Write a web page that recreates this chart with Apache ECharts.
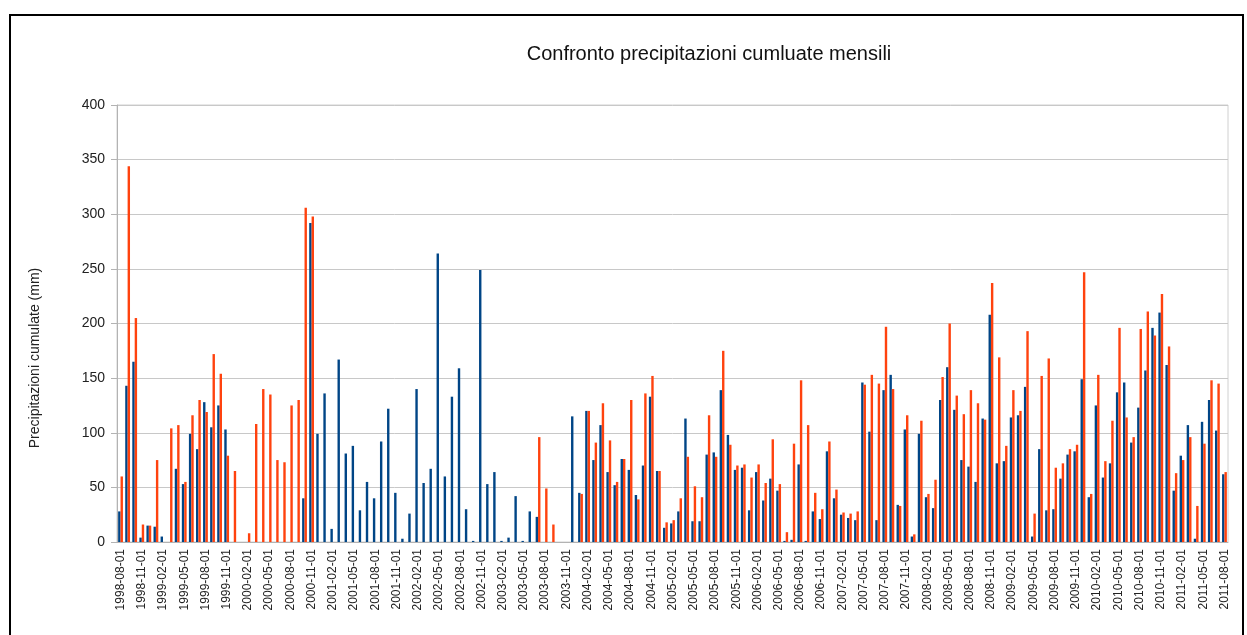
<!DOCTYPE html>
<html>
<head>
<meta charset="utf-8">
<script src="https://cdn.jsdelivr.net/npm/echarts@6/dist/echarts.min.js"></script>
<style>
  html, body { margin: 0; padding: 0; background: #fff; }
  #chart { width: 1247px; height: 635px; }
</style>
</head>
<body>
<div id="chart"></div>
<script>
  // mesi dal 1998-08 al 2011-08
  const startYear = 1998
  const startMonth = 8
  const monthCount = 157

  const blue = [
    28, 143, 165, 4, 15, 14, 5, null, 67, 53, 99, 85, 128, 105, 125, 103,
    null, null, null, null, null, null, null, null, null, null,
    40, 292, 99, 136, 12, 167, 81, 88, 29, 55, 40, 92, 122, 45, 3, 26,
    140, 54, 67, 264, 60, 133, 159, 30, 1, 249, 53, 64, 1, 4, 42, 1,
    28, 23, null, null, null, null, 115, 45, 120, 75, 107, 64, 52, 76,
    66, 43, 70, 133, 65, 13, 17, 28, 113, 19, 19, 80, 82, 139, 98, 66,
    68, 29, 64, 38, 58, 47, 1, 2, 71, 1, 28, 21, 83, 40, 25, 22,
    20, 146, 101, 20, 139, 153, 34, 103, 5, 99, 41, 31, 130, 160, 121, 75,
    69, 55, 113, 208, 72, 74, 114, 116, 142, 5, 85, 29, 30, 58, 80, 83,
    149, 41, 125, 59, 72, 137, 146, 91, 123, 157, 196, 210, 162, 47, 79, 107,
    3, 110, 130, 102, 62
  ]

  const orange = [
    60, 344, 205, 16, 15, 75, null, 104, 107, 55, 116, 130, 119, 172, 154, 79,
    65, null, 8, 108, 140, 135, 75, 73, 125, 130, 306, 298,
    null, null, null, null, null, null, null, null, null, null, null, null,
    null, null, null, null, null, null, null, null, null, null, null, null,
    null, null, null, null, null, null, null,
    96, 49, 16, null, null, null, 44, 120, 91, 127, 93, 55, 76,
    130, 39, 136, 152, 65, 18, 20, 40, 78, 51, 41, 116, 78, 175, 89, 70,
    71, 59, 71, 54, 94, 53, 9, 90, 148, 107, 45, 30, 92, 48, 27, 26,
    28, 144, 153, 145, 197, 140, 33, 116, 7, 111, 44, 57, 151, 200, 134, 117,
    139, 127, 112, 237, 169, 88, 139, 120, 193, 26, 152, 168, 68, 72, 85, 89,
    247, 44, 153, 74, 111, 196, 114, 96, 195, 211, 189, 227, 179, 63, 75, 96,
    33, 90, 148, 145, 64
  ]

  const yTicks = { min: 0, max: 400, interval: 50 }

  const months = []
  for (let i = 0; i < monthCount; i++) {
    const m = startMonth - 1 + i
    const y = startYear + Math.floor(m / 12)
    const mm = (m % 12) + 1
    months.push(y + "-" + (mm < 10 ? "0" + mm : mm) + "-01")
  }

  const font = "Liberation Sans, Arial, sans-serif"
  const grey = "#b3b3b3"

  const myChart = echarts.init(document.getElementById("chart"))
  myChart.setOption({
    animation: false,
    title: {
      text: "Confronto precipitazioni cumluate mensili",
      left: 704,
      top: 39,
      textAlign: "center",
      textStyle: { fontFamily: font, fontSize: 20, fontWeight: "normal", color: "#111" }
    },
    grid: {
      left: 117,
      right: 19,
      top: 105,
      bottom: 93,
      show: true,
      borderColor: "#d0d0d0",
      borderWidth: 1
    },
    xAxis: {
      type: "category",
      data: months,
      axisLine: { lineStyle: { color: grey } },
      axisTick: { interval: 2, length: 5, lineStyle: { color: grey } },
      axisLabel: {
        interval: 2,
        rotate: 90,
        margin: 7,
        fontFamily: font,
        fontSize: 12,
        color: "#222"
      },
      splitLine: { show: false }
    },
    yAxis: {
      type: "value",
      min: yTicks.min,
      max: yTicks.max,
      interval: yTicks.interval,
      axisLine: { show: true, lineStyle: { color: grey } },
      axisTick: { show: true, length: 6, lineStyle: { color: grey } },
      axisLabel: { fontFamily: font, fontSize: 14, color: "#222", margin: 12 },
      splitLine: { lineStyle: { color: "#c8c8c8" } }
    },
    series: [
      {
        name: "Serie 1",
        type: "bar",
        data: blue,
        barWidth: 2.4,
        barGap: "0%",
        itemStyle: { color: "#004586" }
      },
      {
        name: "Serie 2",
        type: "bar",
        data: orange,
        barWidth: 2.4,
        barGap: "0%",
        itemStyle: { color: "#ff420e" }
      }
    ],
    graphic: [
      {
        type: "text",
        x: 35,
        y: 358,
        rotation: Math.PI / 2,
        silent: true,
        style: {
          text: "Precipitazioni cumulate (mm)",
          font: "14px " + font,
          fill: "#222",
          align: "center",
          verticalAlign: "middle"
        }
      },
      {
        type: "rect",
        shape: { x: 10, y: 15, width: 1233, height: 640 },
        style: { fill: "none", stroke: "#000", lineWidth: 2 },
        silent: true
      }
    ]
  })
</script>
</body>
</html>
